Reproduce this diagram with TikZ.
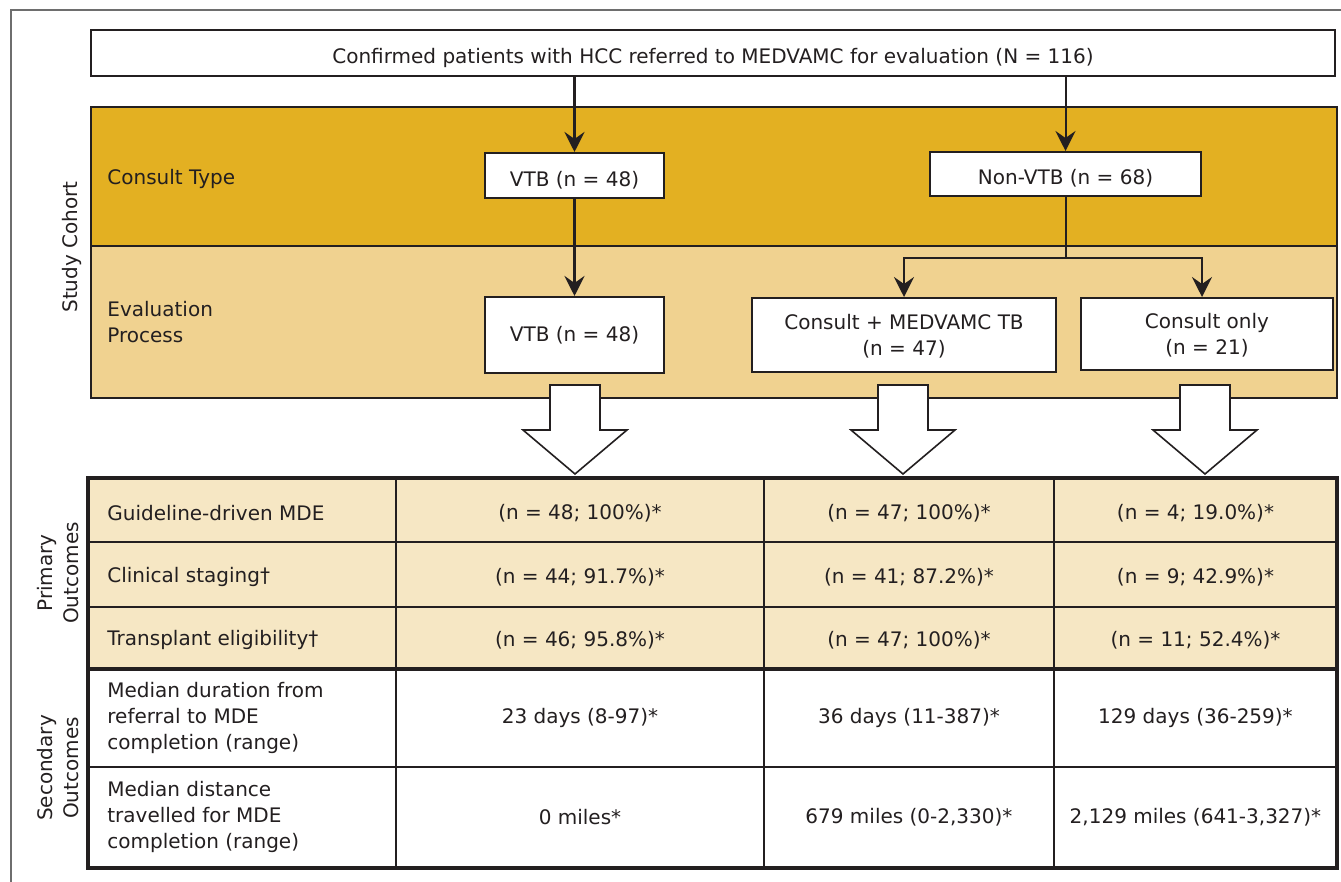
\documentclass[tikz,border=0pt]{standalone}
\usepackage{fontspec}
\setmainfont{DejaVu Sans}
\usetikzlibrary{arrows.meta}
\definecolor{gold}{RGB}{227,176,34}
\definecolor{lightgold}{RGB}{240,210,144}
\definecolor{cream}{RGB}{246,231,196}
\definecolor{lc}{RGB}{35,31,32}
\definecolor{framec}{RGB}{110,110,110}
\tikzset{
  box/.style={draw=lc, line width=1pt, fill=white, inner sep=0pt, align=center, text=lc},
  lowtext/.style={text height=11pt, text depth=0pt},
  lowtwo/.style={text depth=0pt},
  lbl/.style={anchor=west, inner sep=0pt, align=left, text=lc},
  rot/.style={rotate=90, inner sep=0pt, align=center, text=lc},
  cell/.style={inner sep=0pt, align=center, text=lc},
  flow/.style={draw=lc, line width=1pt, -{Stealth[length=10pt,width=10pt,inset=3.5pt]}},
  flowthick/.style={draw=lc, line width=1.6pt, -{Stealth[length=10pt,width=10pt,inset=3.5pt]}},
  plainline/.style={draw=lc, line width=1pt},
  blockarrow/.style={draw=lc, fill=white, line width=0.8pt, line join=miter},
  thin grid/.style={draw=lc, line width=1pt},
  thick grid/.style={draw=lc, line width=1.7pt}
}
\begin{document}
\begin{tikzpicture}[x=0.5pt,y=-0.5pt, font=\fontsize{10}{13}\selectfont]
\useasboundingbox (0,0) rectangle (1341,882);
% frame
\draw[framec, line width=0.8pt] (11,882) -- (11,10) -- (1341,10);
% bands
\draw[lc, line width=0.6pt, fill=gold] (91,107) rectangle (1337,246);
\draw[lc, line width=0.6pt, fill=lightgold] (91,246) rectangle (1337,398);
% labels
\node[rot] (sc) at (72,247) {Study Cohort};
\node[lbl] (ct) at (107,179) {Consult Type};
\node[lbl] (ep) at (107,322) {Evaluation\\Process};
% boxes
\node[box, lowtext, minimum width=622pt, minimum height=23pt] (top) at (713,53) {Confirmed patients with HCC referred to MEDVAMC for evaluation (N = 116)};
\node[box, lowtext, minimum width=89.5pt, minimum height=22.5pt] (vtb1) at (574.5,175.5) {VTB (n = 48)};
\node[box, lowtext, minimum width=135.5pt, minimum height=22pt] (nonvtb) at (1065.5,174) {Non-VTB (n = 68)};
\node[box, minimum width=89.5pt, minimum height=38pt] (vtb2) at (574.5,335) {VTB (n = 48)};
\node[box, lowtwo, minimum width=152pt, minimum height=37pt] (ctb) at (904,335) {Consult + MEDVAMC TB\\(n = 47)};
\node[box, lowtwo, minimum width=126pt, minimum height=36pt] (conly) at (1207,334) {Consult only\\(n = 21)};
% connectors
\draw[flowthick] (top.south -| vtb1) -- (vtb1.north);
\draw[flowthick] (vtb1.south) -- (vtb2.north);
\draw[flow] (top.south -| nonvtb) -- (nonvtb.north);
\coordinate (bj) at (1065.5,258);
\draw[plainline] (nonvtb.south) -- (bj);
\draw[flow] (bj) -| (ctb.north);
\draw[flow] (bj) -| (nonvtb.east |- conly.north);
% block arrows
\foreach \cx in {575,903,1205}{
  \draw[blockarrow] (\cx-25,385) -- (\cx+25,385) -- (\cx+25,430) -- (\cx+52,430) -- (\cx,474) -- (\cx-52,430) -- (\cx-25,430) -- cycle;
}
% table
\fill[cream] (88,478) rectangle (1337,669);
\fill[white] (88,669) rectangle (1337,868);
\draw[thin grid] (88,542) -- (1337,542);
\draw[thin grid] (88,607) -- (1337,607);
\draw[thin grid] (88,767) -- (1337,767);
\draw[thin grid] (396,478) -- (396,868);
\draw[thin grid] (764,478) -- (764,868);
\draw[thin grid] (1054,478) -- (1054,868);
\draw[thick grid] (88,669) -- (1337,669);
\draw[thick grid] (88,478) rectangle (1337,868);
% row labels
\node[rot] (po) at (58,573) {Primary\\Outcomes};
\node[rot] (so) at (58,768) {Secondary\\Outcomes};
\node[lbl] (r1) at (107,513) {Guideline-driven MDE};
\node[lbl] (r2) at (107,577) {Clinical staging†};
\node[lbl] (r3) at (107,640) {Transplant eligibility†};
\node[lbl] (r4) at (107,718) {Median duration from\\referral to MDE\\completion (range)};
\node[lbl] (r5) at (107,817) {Median distance\\travelled for MDE\\completion (range)};
% values
\node[cell] (r1c1) at (580,513) {(n = 48; 100\%)*};
\node[cell] (r1c2) at (909,513) {(n = 47; 100\%)*};
\node[cell] (r1c3) at (1195.5,513) {(n = 4; 19.0\%)*};
\node[cell] (r2c1) at (580,577) {(n = 44; 91.7\%)*};
\node[cell] (r2c2) at (909,577) {(n = 41; 87.2\%)*};
\node[cell] (r2c3) at (1195.5,577) {(n = 9; 42.9\%)*};
\node[cell] (r3c1) at (580,640) {(n = 46; 95.8\%)*};
\node[cell] (r3c2) at (909,640) {(n = 47; 100\%)*};
\node[cell] (r3c3) at (1195.5,640) {(n = 11; 52.4\%)*};
\node[cell] (r4c1) at (580,718) {23 days (8-97)*};
\node[cell] (r4c2) at (909,718) {36 days (11-387)*};
\node[cell] (r4c3) at (1195.5,718) {129 days (36-259)*};
\node[cell] (r5c1) at (580,817) {0 miles*};
\node[cell] (r5c2) at (909,817) {679 miles (0-2,330)*};
\node[cell] (r5c3) at (1195.5,817) {2,129 miles (641-3,327)*};
\end{tikzpicture}
\end{document}
